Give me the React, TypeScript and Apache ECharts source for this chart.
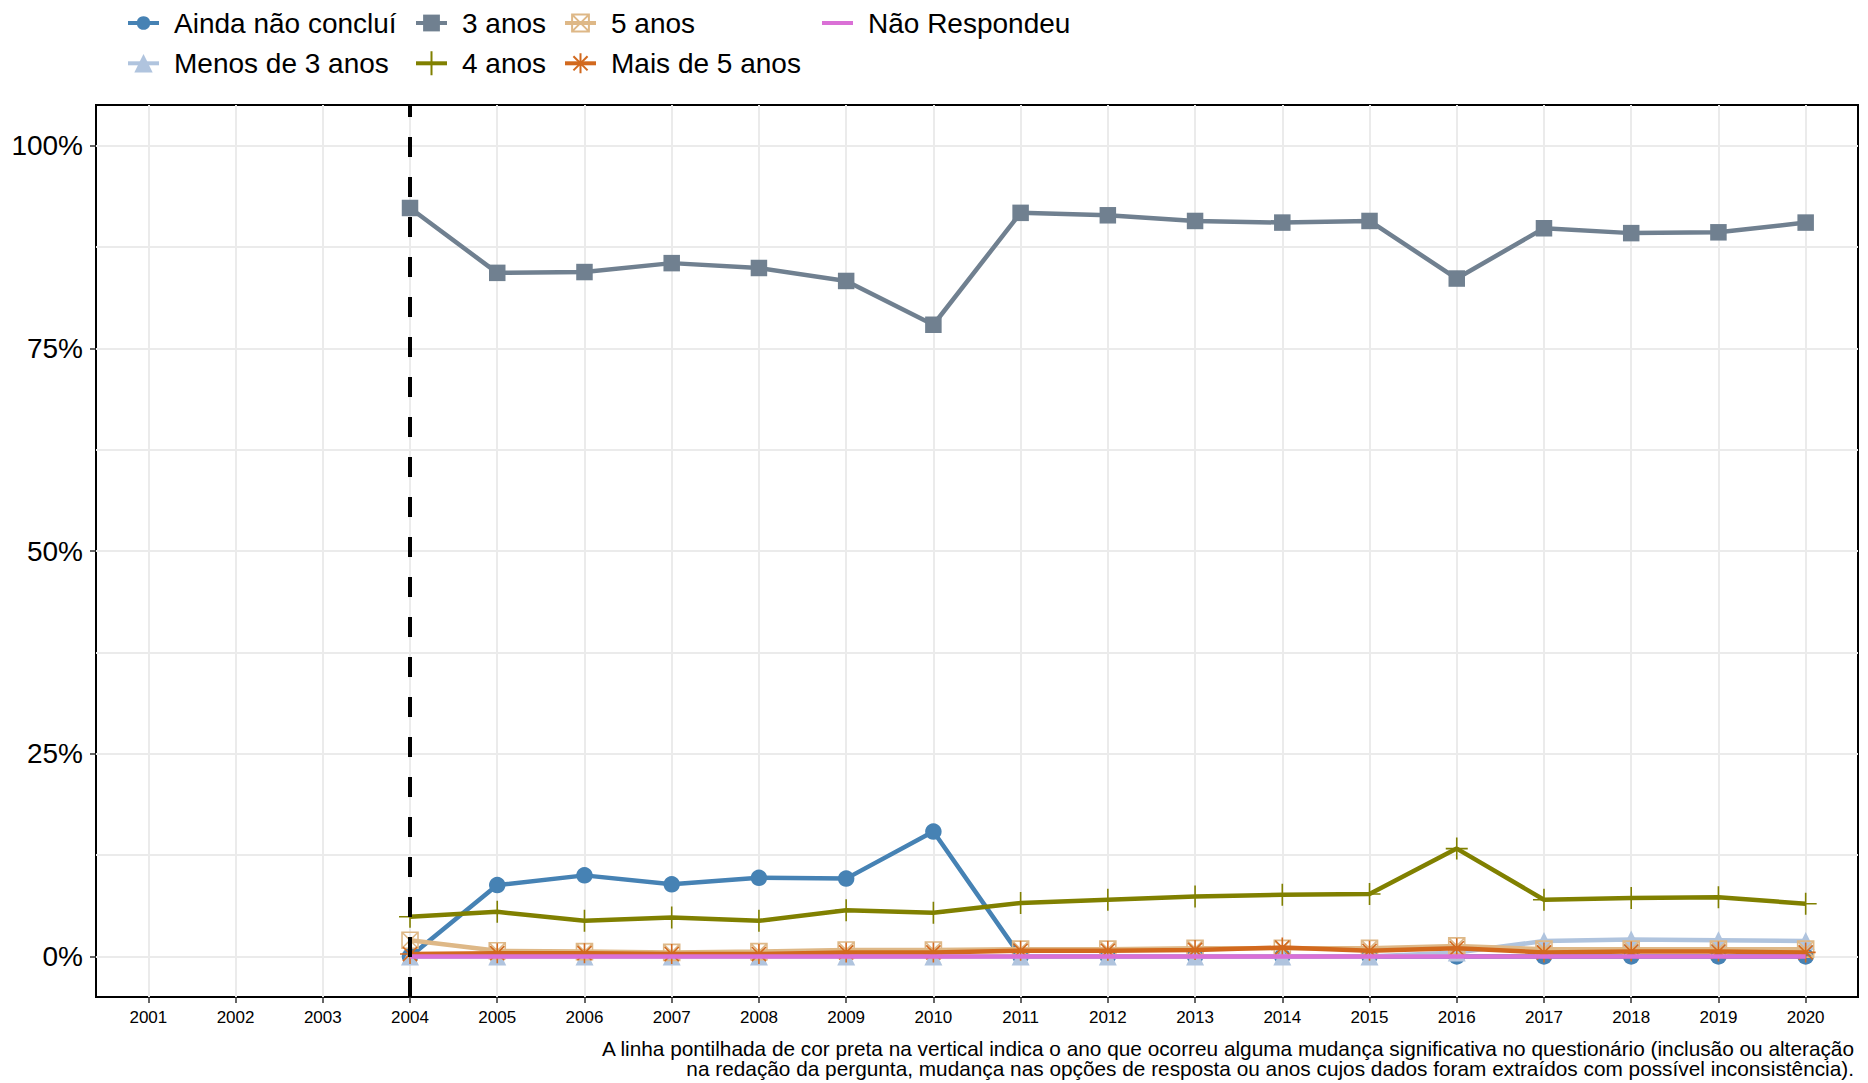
import React, { useEffect, useRef } from "react";
import * as echarts from "echarts";

const years = [2004, 2005, 2006, 2007, 2008, 2009, 2010, 2011, 2012, 2013, 2014, 2015, 2016, 2017, 2018, 2019, 2020];
const axisYears = [2001, 2002, 2003, 2004, 2005, 2006, 2007, 2008, 2009, 2010, 2011, 2012, 2013, 2014, 2015, 2016, 2017, 2018, 2019, 2020];
const yMajor = [0, 25, 50, 75, 100];
const yAll = [0, 12.5, 25, 37.5, 50, 62.5, 75, 87.5, 100];

const aindaNaoConclui = [0, 8.8, 10.0, 8.9, 9.7, 9.6, 15.4, 0, 0, 0, 0, 0, 0, 0, 0, 0, 0];
const menosDe3Anos = [0, 0, 0, 0, 0, 0, 0, 0, 0, 0, 0, 0, 0.5, 1.9, 2.1, 2.0, 1.9];
const tresAnos = [92.3, 84.3, 84.4, 85.5, 84.9, 83.3, 77.9, 91.7, 91.4, 90.7, 90.5, 90.7, 83.6, 89.8, 89.2, 89.3, 90.5];
const quatroAnos = [4.9, 5.5, 4.4, 4.8, 4.4, 5.7, 5.4, 6.6, 7.0, 7.4, 7.6, 7.7, 13.3, 7.0, 7.2, 7.3, 6.5];
const cincoAnos = [2.0, 0.7, 0.6, 0.5, 0.6, 0.8, 0.8, 0.9, 0.9, 1.0, 1.0, 1.0, 1.3, 0.9, 0.9, 0.9, 0.9];
const maisDe5Anos = [0.3, 0.4, 0.4, 0.3, 0.3, 0.5, 0.5, 0.7, 0.7, 0.8, 1.1, 0.7, 1.0, 0.5, 0.6, 0.6, 0.5];
const naoRespondeu = [0, 0, 0, 0, 0, 0, 0, 0, 0, 0, 0, 0, 0, 0, 0, 0, 0];

const seriesNames = ["Ainda não concluí", "Menos de 3 anos", "3 anos", "4 anos", "5 anos", "Mais de 5 anos", "Não Respondeu"];
const seriesColors = ["#4682B4", "#B0C4DE", "#708090", "#808000", "#DEB887", "#D2691E", "#DA70D6"];
const seriesValues = [aindaNaoConclui, menosDe3Anos, tresAnos, quatroAnos, cincoAnos, maisDe5Anos, naoRespondeu];

const changeYear = 2004;
const captionLines = [
  "A linha pontilhada de cor preta na vertical indica o ano que ocorreu alguma mudança significativa no questionário (inclusão ou alteração",
  "na redação da pergunta, mudança nas opções de resposta ou anos cujos dados foram extraídos com possível inconsistência).",
];

const FONT = "Liberation Sans";

const boxCross = "path://M-1 -1 L1 -1 L1 1 L-1 1 Z M-1 -1 L1 1 M1 -1 L-1 1";
const asterisk = "path://M0 -1 L0 1 M-1 0 L1 0 M-0.707 -0.707 L0.707 0.707 M0.707 -0.707 L-0.707 0.707";
const plus = "path://M0 -1 L0 1 M-1 0 L1 0";

type Marker = { symbol: string; size: number; stroke: boolean; legendH: number };
const markers: Marker[] = [
  { symbol: "circle", size: 16.5, stroke: false, legendH: 17 },
  { symbol: "triangle", size: 18, stroke: false, legendH: 23 },
  { symbol: "rect", size: 16.5, stroke: false, legendH: 21 },
  { symbol: plus, size: 22, stroke: true, legendH: 30 },
  { symbol: boxCross, size: 16, stroke: true, legendH: 21 },
  { symbol: asterisk, size: 20, stroke: true, legendH: 25 },
  { symbol: "circle", size: 0, stroke: false, legendH: 17 },
];

// legend placement: [iconLeft, rowCenter]
const legendPos: [number, number][] = [
  [126, 23],
  [126, 63.3],
  [414, 23],
  [414, 63.3],
  [563, 23],
  [563, 63.3],
  [820, 23],
];

export default function App() {
  const ref = useRef<HTMLDivElement>(null);
  useEffect(() => {
    if (!ref.current) return;
    const chart = echarts.init(ref.current, null, { renderer: "svg" });

    const series: any[] = seriesNames.map((name, i) => {
      const m = markers[i];
      const color = seriesColors[i];
      const s: any = {
        name,
        type: "line",
        data: years.map((y, k) => [y, seriesValues[i][k]]),
        xAxisIndex: 0,
        yAxisIndex: 0,
        symbol: m.symbol,
        symbolSize: m.size,
        showSymbol: i !== 6,
        lineStyle: { color, width: 4.5 },
        itemStyle: m.stroke
          ? { color: "transparent", borderColor: color, borderWidth: 1.6 }
          : { color, borderWidth: 0 },
        z: 2 + i * 0.01,
      };
      if (i === 0) {
        s.markLine = {
          silent: true,
          symbol: "none",
          z: 10,
          label: { show: false },
          lineStyle: { color: "#000", width: 4, type: [20, 20] },
          data: [{ xAxis: changeYear }],
        };
      }
      return s;
    });

    const legends = seriesNames.map((name, i) => ({
      show: true,
      selectedMode: false,
      orient: "horizontal",
      left: legendPos[i][0],
      top: legendPos[i][1] - 16,
      padding: 0,
      itemWidth: 31,
      itemHeight: markers[i].legendH,
      lineStyle: { width: 4 },
      data: [i === 6 ? { name, itemStyle: { opacity: 0 } } : { name }],
      textStyle: {
        fontSize: 28,
        fontFamily: FONT,
        color: "#000",
        lineHeight: 32,
        padding: [0, 0, 0, 10],
      },
    }));

    chart.setOption({
      animation: false,
      backgroundColor: "#fff",
      textStyle: { fontFamily: FONT },
      legend: legends,
      grid: {
        left: 96,
        right: 10,
        top: 105,
        bottom: 86,
        show: true,
        borderColor: "#000",
        borderWidth: 2,
        backgroundColor: "#fff",
        containLabel: false,
      },
      xAxis: {
        type: "value",
        min: 2000.4,
        max: 2020.6,
        axisLine: { show: false, onZero: false },
        axisTick: {
          show: true,
          customValues: axisYears,
          length: 6,
          lineStyle: { color: "#333", width: 1.5 },
        },
        axisLabel: {
          show: true,
          customValues: axisYears,
          formatter: (v: number) => String(v),
          fontSize: 17,
          color: "#000",
          fontFamily: FONT,
          margin: 12,
        },
        splitLine: { show: true, lineStyle: { color: "#ebebeb", width: 2 } },
      },
      yAxis: [
        {
          type: "value",
          min: -5,
          max: 105,
          axisLine: { show: false, onZero: false },
          axisTick: { show: false, customValues: yAll },
          axisLabel: { show: false, customValues: yAll },
          splitLine: { show: true, lineStyle: { color: "#ebebeb", width: 2 } },
        },
        {
          type: "value",
          min: -5,
          max: 105,
          position: "left",
          axisLine: { show: false, onZero: false },
          axisTick: {
            show: true,
            customValues: yMajor,
            length: 6,
            lineStyle: { color: "#333", width: 1.5 },
          },
          axisLabel: {
            show: true,
            customValues: yMajor,
            formatter: (v: number) => v + "%",
            fontSize: 28,
            color: "#000",
            fontFamily: FONT,
            margin: 13,
          },
          splitLine: { show: false },
        },
      ],
      series,
      graphic: captionLines.map((t, k) => ({
        type: "text",
        x: 1854,
        y: 1048.5 + k * 20.3,
        silent: true,
        style: {
          text: t,
          fontSize: 20.8,
          fontFamily: FONT,
          fill: "#000",
          align: "right",
          verticalAlign: "middle",
        },
      })),
    });

    return () => chart.dispose();
  }, []);

  return (
    <div
      ref={ref}
      style={{ position: "absolute", left: 0, top: 0, width: 1868, height: 1083 }}
    />
  );
}
